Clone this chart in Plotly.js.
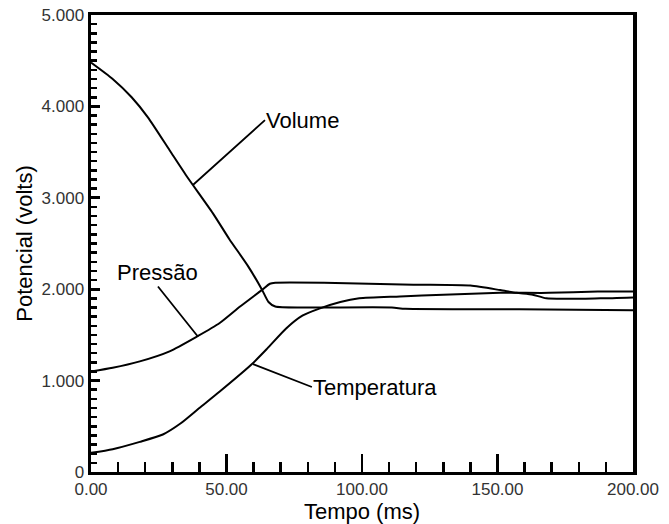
<!DOCTYPE html>
<html>
<head>
<meta charset="utf-8">
<script src="https://cdn.plot.ly/plotly-3.0.1.min.js"></script>
<style>html,body{margin:0;padding:0;background:#fff;}#chart{width:669px;height:524px;}</style>
</head>
<body>
<div id="chart"></div>
<script>
// Tempo (ms) and Potencial (volts)
const volumeT = [0, 8, 15, 21, 29, 35, 45, 51, 58, 63, 65.5, 68, 80, 111, 116, 158, 200];
const volumeV = [4.48, 4.30, 4.10, 3.88, 3.52, 3.25, 2.83, 2.55, 2.25, 2.00, 1.86, 1.81, 1.80, 1.80, 1.785, 1.78, 1.77];

const pressaoT = [0, 8, 18, 29, 39, 47.5, 55, 63, 66, 68, 86, 119, 140, 151, 157, 163, 168, 188, 200];
const pressaoV = [1.10, 1.14, 1.21, 1.32, 1.48, 1.63, 1.81, 1.99, 2.06, 2.07, 2.07, 2.05, 2.04, 1.99, 1.96, 1.94, 1.90, 1.90, 1.91];

const temperaturaT = [0, 8, 18, 26.5, 33, 40, 47.5, 59, 65, 72, 78, 84.5, 92, 99, 114, 130, 151, 169, 187, 200];
const temperaturaV = [0.21, 0.25, 0.33, 0.41, 0.53, 0.70, 0.88, 1.17, 1.35, 1.57, 1.71, 1.79, 1.86, 1.90, 1.92, 1.94, 1.96, 1.96, 1.975, 1.975];

// axis ticks
const xTickStep = 50, xMinorStep = 10;
const yTickStep = 1, yMinorStep = 0.1;
const yLabelAlias = {"0.000": "0"};

// curve labels: name, point on curve (t, v), text anchor point (t, v)
const labelNames = ["Volume", "Pressão", "Temperatura"];
const labelPointT = [37.6, 39.5, 59.8];
const labelPointV = [3.14, 1.48, 1.18];
const labelTextT = [64.2, 24.7, 81.5];
const labelTextV = [3.85, 2.03, 0.93];
const labelXAnchor = ["left", "center", "left"];
const labelYAnchor = ["middle", "bottom", "middle"];

const lineStyle = {color: "#000", width: 2, shape: "spline", smoothing: 0.6};
const traces = [
  {x: volumeT, y: volumeV, mode: "lines", line: lineStyle, name: "Volume", hoverinfo: "skip"},
  {x: pressaoT, y: pressaoV, mode: "lines", line: lineStyle, name: "Pressão", hoverinfo: "skip"},
  {x: temperaturaT, y: temperaturaV, mode: "lines", line: lineStyle, name: "Temperatura", hoverinfo: "skip"}
];

const labelFont = {family: "Liberation Sans, Arial, sans-serif", size: 22, color: "#000"};
const annotations = labelNames.map((n, i) => ({
  x: labelPointT[i], y: labelPointV[i], xref: "x", yref: "y",
  ax: labelTextT[i], ay: labelTextV[i], axref: "x", ayref: "y",
  text: n, showarrow: true, arrowhead: 0, arrowwidth: 1.8, arrowcolor: "#000",
  xanchor: labelXAnchor[i], yanchor: labelYAnchor[i],
  font: labelFont, borderpad: 0, standoff: 0, startstandoff: 0
}));

const tickFont = {family: "Liberation Sans, Arial, sans-serif", size: 17, color: "#333"};

const layout = {
  width: 669, height: 524,
  margin: {l: 91, r: 36, t: 15, b: 52},
  paper_bgcolor: "#fff", plot_bgcolor: "#fff",
  showlegend: false,
  xaxis: {
    range: [0, 200], tickmode: "linear", tick0: 0, dtick: xTickStep, tickformat: ".2f",
    ticks: "inside", ticklen: 18, tickwidth: 2.5, tickcolor: "#000",
    minor: {dtick: xMinorStep, tick0: 0, ticks: "inside", ticklen: 10, tickwidth: 2.5, tickcolor: "#000", showgrid: false},
    showline: true, linewidth: 3, linecolor: "#000", mirror: true,
    showgrid: false, zeroline: false,
    tickfont: tickFont,
    title: {text: "Tempo (ms)", font: labelFont, standoff: 2}
  },
  yaxis: {
    range: [0, 5], tickmode: "linear", tick0: 0, dtick: yTickStep, tickformat: ".3f",
    labelalias: yLabelAlias,
    ticks: "inside", ticklen: 9, tickwidth: 3, tickcolor: "#000",
    minor: {dtick: yMinorStep, tick0: 0, ticks: "inside", ticklen: 6, tickwidth: 2.5, tickcolor: "#000", showgrid: false},
    showline: true, linewidth: 3.5, linecolor: "#000", mirror: true,
    showgrid: false, zeroline: false,
    tickfont: tickFont,
    title: {text: "Potencial (volts)", font: labelFont, standoff: 4}
  },
  annotations: annotations
};

Plotly.newPlot("chart", traces, layout, {staticPlot: true, displayModeBar: false});
</script>
</body>
</html>
